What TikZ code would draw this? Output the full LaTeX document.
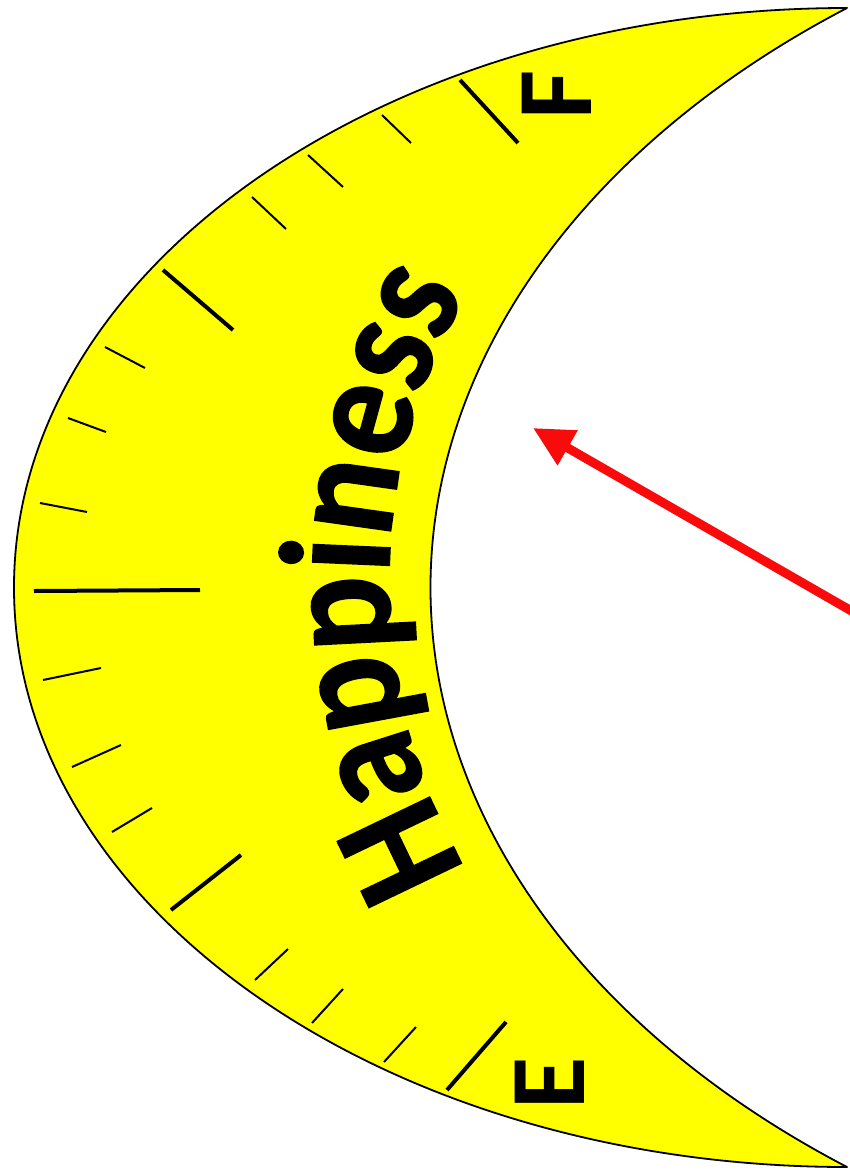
\documentclass[tikz,border=0pt]{standalone}
\usepackage{fontspec}
\setmainfont{Carlito}
\newfontfamily\hapfont[FakeStretch=0.89,FakeBold=1]{Carlito}
\usetikzlibrary{decorations.text,arrows.meta}
\definecolor{moonyellow}{RGB}{255,255,0}
\definecolor{needlered}{RGB}{250,10,10}
\begin{document}
\begin{tikzpicture}[x=1pt,y=-1pt,
  crescent/.style={fill=moonyellow, draw=black, line width=1.8pt, line join=round},
  majortick/.style={draw=black, line width=4pt},
  minortick/.style={draw=black, line width=2pt},
  dial/.style={font=\bfseries\fontsize{107}{107}\selectfont, rotate=90, inner sep=0pt},
  needle/.style={draw=needlered, line width=9pt, -{Triangle[length=40pt,width=38pt]}}]
\useasboundingbox (0,0) rectangle (850,1170);
\fill[white] (0,0) rectangle (850,1170);
% crescent
\draw[crescent] (847,8)
  arc[start angle=270, end angle=90, x radius=833, y radius=579.5]
  arc[start angle=126.87, end angle=233.13, x radius=1041.25, y radius=724.4]
  -- cycle;
% major ticks
\draw[majortick] (460,80) -- (518,143);
\draw[majortick] (163,270) -- (233,330);
\draw[majortick] (34,591) -- (200,590);
\draw[majortick] (171,910) -- (241,855);
\draw[majortick] (447,1090) -- (506,1022);
% minor ticks
\draw[minortick] (382,115) -- (411,143);
\draw[minortick] (308,155) -- (343,187);
\draw[minortick] (252,197) -- (286,229);
\draw[minortick] (105,347) -- (145,368);
\draw[minortick] (68,418) -- (106,432);
\draw[minortick] (40,503) -- (87,512);
\draw[minortick] (43,680) -- (101,668);
\draw[minortick] (72,767) -- (121,745);
\draw[minortick] (112,832) -- (152,808);
\draw[minortick] (255,980) -- (288,949);
\draw[minortick] (312,1023) -- (343,989);
\draw[minortick] (384,1062) -- (416,1027);
% curved label
\path[decorate, decoration={text along path, text align=center,
  text={|\hapfont\bfseries\fontsize{158}{158}\selectfont|Happiness}}]
  (523.1,950.3) arc[start angle=140, end angle=220, radius=573];
% dial letters
\node[dial] (F) at (557,95) {F};
\node[dial] (E) at (550,1083) {E};
% needle
\coordinate (tail) at (862,617);
\coordinate (tip) at (533,428);
\draw[needle] (tail) -- (tip);
\end{tikzpicture}
\end{document}
